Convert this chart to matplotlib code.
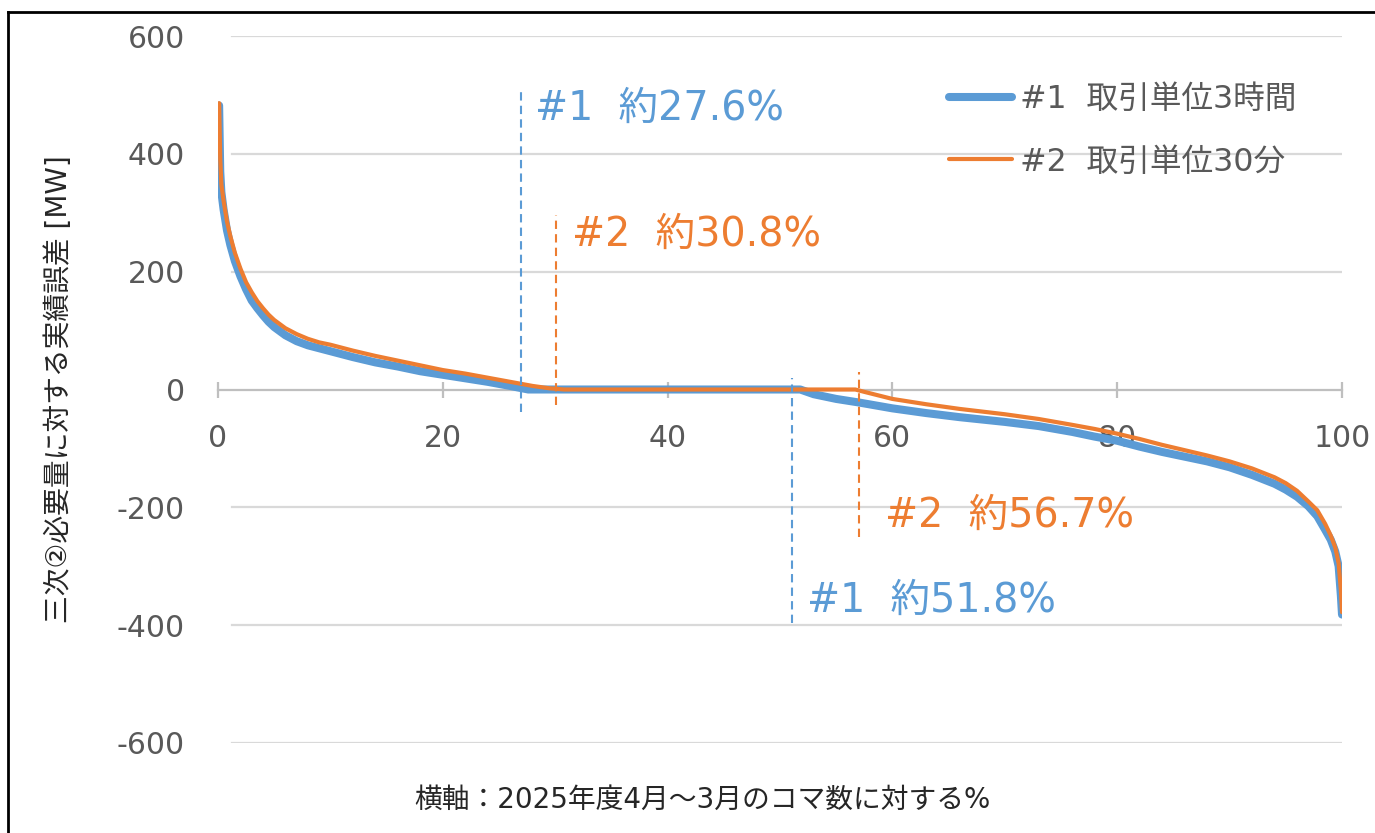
import matplotlib
matplotlib.use('Agg')
import matplotlib.pyplot as plt
from matplotlib.lines import Line2D

# フォント（英数字はDejaVu、日本語はNoto Sans CJK JP）
plt.rcParams['font.family'] = ['DejaVu Sans', 'Noto Sans CJK JP']
plt.rcParams['axes.unicode_minus'] = False

BLUE = '#5B9BD5'
ORANGE = '#ED7D31'

# #1 取引単位3時間（降順に並べた実績誤差）
x1 = [0.1, 0.2, 0.3, 0.5, 0.8, 1.1, 1.5, 2, 2.5, 3, 3.5, 4, 4.5, 5, 6, 7, 8, 9, 10,
      12, 14, 16, 18, 20, 22, 24, 26, 27.6, 35, 45, 51.8, 53, 55, 57, 60, 63, 66,
      70, 73, 76, 78, 80, 82, 84, 86, 88, 90, 92, 94, 95, 96, 97, 97.8, 98.5, 99,
      99.4, 99.7, 99.9, 100]
y1 = [482, 370, 335, 305, 270, 245, 218, 192, 170, 151, 138, 126, 115, 106, 92, 82, 75, 70, 65,
      55, 46, 39, 31, 25, 19, 13, 6, 0, 0, 0, 0, -8, -16, -22, -32, -40, -47,
      -55, -62, -72, -80, -87, -97, -106, -114, -122, -132, -145, -160, -170, -182, -198, -215, -238, -255,
      -275, -300, -350, -382]

# #2 取引単位30分
x2 = [0.1, 0.2, 0.3, 0.5, 0.8, 1.1, 1.5, 2, 2.5, 3, 3.5, 4, 4.5, 5, 6, 7, 8, 9, 10,
      12, 14, 16, 18, 20, 22, 24, 26, 28, 29.5, 30.8, 45, 56.7, 57.5, 60, 63, 66,
      70, 73, 76, 78, 80, 82, 84, 86, 88, 90, 92, 94, 95, 96, 97, 97.8, 98.5, 99,
      99.4, 99.7, 99.9, 100]
y2 = [486, 390, 348, 320, 285, 260, 232, 205, 182, 165, 150, 138, 127, 118, 104, 94, 86, 80, 76,
      66, 57, 49, 41, 33, 27, 20, 13, 6, 2, 0, 0, 0, -4, -16, -25, -33,
      -42, -50, -60, -67, -75, -84, -94, -103, -112, -122, -134, -149, -159, -172, -190, -205, -228, -248,
      -268, -295, -340, -378]

series_names = ['#1  取引単位3時間', '#2  取引単位30分']

# 補助線と注記
mark_x = [27.0, 30.1, 51.1, 57.0]
mark_top = [505, 296, 19, 29]
mark_bottom = [-39, -27, -396, -251]
mark_labels = ['#1  約27.6%', '#2  約30.8%', '#1  約51.8%', '#2  約56.7%']
label_x = [28.2, 31.5, 52.4, 59.3]
label_y = [477, 262, -358, -214]
mark_colors = [BLUE, ORANGE, BLUE, ORANGE]

x_ticks = [0, 20, 40, 60, 80, 100]
y_ticks = [-600, -400, -200, 0, 200, 400, 600]
grid_y = [-600, -400, -200, 200, 400, 600]

fig = plt.figure(figsize=(13.75, 8.33), dpi=100)
ax = fig.add_axes([218 / 1375, 1 - 743 / 833, (1342 - 218) / 1375, (743 - 36) / 833])

for gy in grid_y:
    ax.axhline(gy, xmin=0.0125, xmax=1, color='#D9D9D9', lw=1.6, zorder=0)

ax.plot(x1, y1, color=BLUE, lw=5.8, solid_capstyle='round', solid_joinstyle='round',
        label=series_names[0], zorder=3)
ax.plot(x2, y2, color=ORANGE, lw=3.0, solid_capstyle='round', solid_joinstyle='round',
        label=series_names[1], zorder=4)

for xm, yt, yb, txt, tx, ty, c in zip(mark_x, mark_top, mark_bottom, mark_labels,
                                      label_x, label_y, mark_colors):
    ax.vlines(xm, yb, yt, colors=c, lw=1.5, linestyles=(0, (4, 2.5)), zorder=5)
    ax.text(tx, ty, txt, color=c, fontsize=28.5, ha='left', va='center')

ax.set_xlim(0, 100)
ax.set_ylim(-600, 600)
ax.set_xticks(x_ticks)
ax.set_yticks(y_ticks)

for s in ['top', 'right', 'left']:
    ax.spines[s].set_visible(False)
ax.spines['bottom'].set_position(('data', 0))
ax.spines['bottom'].set_color('#BFBFBF')
ax.spines['bottom'].set_linewidth(1.6)

ax.tick_params(axis='x', direction='inout', length=12, width=1.6, color='#BFBFBF',
               labelsize=21.5, labelcolor='#595959', pad=19)
ax.tick_params(axis='y', length=0, labelsize=21.5, labelcolor='#595959', pad=24)

ax.set_ylabel('三次②必要量に対する実績誤差 [MW]', fontsize=20, color='#262626', labelpad=31)
fig.text(702 / 1375, 1 - 800 / 833, '横軸：2025年度4月～3月のコマ数に対する%',
         fontsize=20, color='#262626', ha='center', va='center')

leg = ax.legend(loc='upper left', bbox_to_anchor=(933 / 1375, 1 - 68 / 833),
                bbox_transform=fig.transFigure, frameon=False, fontsize=22.8,
                handlelength=2.0, handletextpad=0.25, labelspacing=1.0, borderpad=0)
for t in leg.get_texts():
    t.set_color('#595959')

# 外枠
fig.add_artist(Line2D([8 / 1375, 8 / 1375], [0, 1 - 11.5 / 833],
                      transform=fig.transFigure, color='black', lw=2))
fig.add_artist(Line2D([8 / 1375, 1], [1 - 11.5 / 833, 1 - 11.5 / 833],
                      transform=fig.transFigure, color='black', lw=2))

fig.savefig('out.png', dpi=100)
